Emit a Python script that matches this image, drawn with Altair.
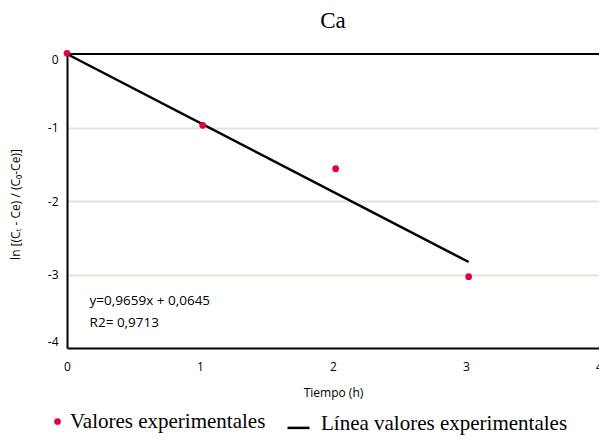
import altair as alt
import pandas as pd

# ---- data ----
tiempo = [0.0, 1.02, 2.02, 3.02]
valores = [0.01, -0.97, -1.56, -3.03]
linea_x = [0.0, 3.02]
linea_y = [0.0, -2.83]
x_ticks = [0, 1, 2, 3, 4]
y_ticks = [0, -1, -2, -3, -4]
ecuacion_txt = ["y=0,9659x + 0,0645", "R2= 0,9713"]
ecuacion_x = [0.17, 0.17]
ecuacion_y = [-3.42, -3.71]
serie_pts = "Valores experimentales"
serie_lin = "Línea valores experimentales"

RED = "#e4003a"
GRID = "#e6e3d8"
SANS = "Open Sans"
SERIF = "Liberation Serif"

df_pts = pd.DataFrame({"t": tiempo, "v": valores, "serie": serie_pts})
df_lin = pd.DataFrame({"t": linea_x, "v": linea_y, "serie": serie_lin})
df_txt = pd.DataFrame({"t": ecuacion_x, "v": ecuacion_y, "txt": ecuacion_txt})
df_top = pd.DataFrame({"v": [max(y_ticks)]})

xs = alt.Scale(domain=[min(x_ticks), max(x_ticks)], nice=False, zero=False)
ys = alt.Scale(domain=[min(y_ticks), max(y_ticks)], nice=False, zero=False)

x_axis = alt.Axis(
    values=x_ticks, format="d", grid=False, ticks=False, domainColor="black", domainWidth=2,
    labelFont=SANS, labelFontSize=12, labelColor="black", labelPadding=13,
    labelFlush=False, title="Tiempo (h)", titleFont=SANS, titleFontSize=12,
    titleFontWeight="normal", titleColor="black", titlePadding=15,
)
y_axis = alt.Axis(
    values=y_ticks, labelExpr="'' + datum.value", grid=True,
    gridColor={"condition": {"test": "datum.value == 0 || datum.value == -4", "value": "transparent"}, "value": GRID},
    gridWidth=2, ticks=False, domainColor="black", domainWidth=2,
    labelFont=SANS, labelFontSize=12, labelColor="black", labelPadding=9,
    labelFlush=True, title="ln [(Cₜ - Ce) / (C₀-Ce)]", titleFont=SANS, titleFontSize=12,
    titleFontWeight="normal", titleColor="black",
    titleX=-52, titleY=150, titleAngle=270, titleAlign="center", titleBaseline="middle",
)

base_x = alt.X("t:Q", scale=xs, axis=x_axis)
base_y = alt.Y("v:Q", scale=ys, axis=y_axis)

top_rule = alt.Chart(df_top).mark_rule(color="black", strokeWidth=2).encode(
    y=alt.Y("v:Q", scale=ys)
)

line = alt.Chart(df_lin).mark_line(color="black", strokeWidth=2.5).encode(
    x=base_x, y=base_y,
    color=alt.Color("serie:N", scale=alt.Scale(domain=[serie_lin], range=["black"]),
                    legend=alt.Legend(title=None, orient="none", legendX=219, legendY=357,
                                      symbolType="M-1,0.4L1,0.4", symbolSize=484,
                                      symbolStrokeWidth=2.5, symbolStrokeColor="black",
                                      labelOffset=10, labelFont=SERIF, labelFontSize=21,
                                      labelColor="black", labelLimit=400)),
)

pts = alt.Chart(df_pts).mark_circle(size=45, opacity=1).encode(
    x=base_x, y=base_y,
    color=alt.Color("serie:N", scale=alt.Scale(domain=[serie_pts], range=[RED]),
                    legend=alt.Legend(title=None, orient="none", legendX=-20, legendY=357,
                                      symbolType="circle", symbolSize=45,
                                      labelOffset=2, labelFont=SERIF, labelFontSize=21,
                                      labelColor="black", labelLimit=400)),
)

txt = alt.Chart(df_txt).mark_text(align="left", baseline="alphabetic", font=SANS,
                                  fontSize=13.5, color="black").encode(
    x=alt.X("t:Q", scale=xs), y=alt.Y("v:Q", scale=ys), text="txt:N"
)

chart = alt.layer(top_rule, line, pts, txt).resolve_scale(color="independent").properties(
    width=532, height=294,
    title=alt.TitleParams("Ca", font=SERIF, fontSize=23, fontWeight="normal",
                          color="black", anchor="middle", offset=16),
    autosize=alt.AutoSizeParams(type="none"),
    padding={"left": 59, "top": 46, "right": 0, "bottom": 89},
).configure_view(stroke=None)

chart.save("out.html", embed_options={"renderer": "svg", "actions": False})
